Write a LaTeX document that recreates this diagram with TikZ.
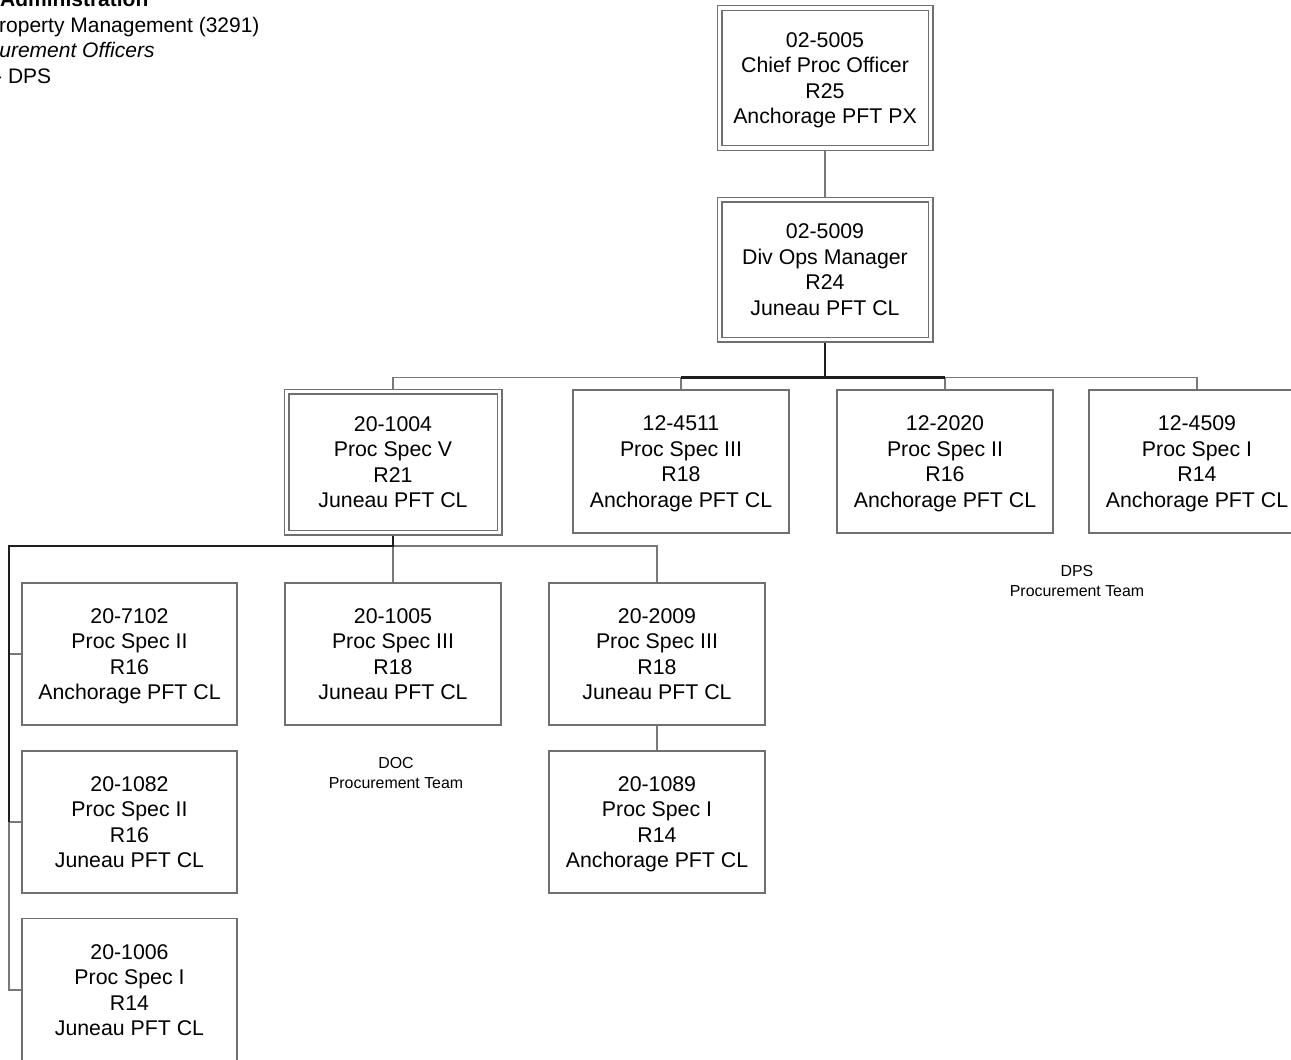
\documentclass[tikz,border=0pt]{standalone}
\usepackage{fontspec}
\setmainfont{Liberation Sans}
\usetikzlibrary{backgrounds}
\definecolor{boxgray}{HTML}{707070}
\definecolor{linegray}{HTML}{787878}
\definecolor{thickblack}{HTML}{1E1E1E}
\tikzset{
  boxtext/.style={font=\fontsize{21.3}{25.5}\selectfont, align=center, inner sep=0pt, text=black, text depth=0pt},
  posbox/.style={boxtext, draw=boxgray, line width=1.3pt, fill=white, minimum width=216pt, minimum height=143pt},
  dposbox/.style={boxtext, draw=boxgray, line width=1.2pt, double=white, double distance=3.6pt, fill=white, minimum width=211pt, minimum height=140pt},
  thinlink/.style={draw=linegray, line width=1.3pt},
  thicklink/.style={draw=thickblack, line width=2.3pt},
  teamlabel/.style={font=\fontsize{15.9}{20}\selectfont, align=center, inner sep=0pt},
  headtext/.style={font=\fontsize{21}{25.5}\selectfont, anchor=base west, inner sep=0pt}
}
\begin{document}
\begin{tikzpicture}[x=1pt, y=-1pt]
\useasboundingbox (0,0) rectangle (1291,1060);

% header text (partly cut off at the page edge)
\node[headtext, font=\fontsize{21}{25.5}\selectfont\bfseries] (h1) at (0,6) {Administration};
\node[headtext] (h2) at (-15,32) {Property Management (3291)};
\node[headtext, font=\fontsize{21}{25.5}\selectfont\itshape] (h3) at (-44,57) {Procurement Officers};
\node[headtext] (h4) at (-5,83) {- DPS};

% boxes
\node[dposbox] (A) at (825,78) {02-5005\\Chief Proc Officer\\R25\\Anchorage PFT PX};
\node[dposbox] (B) at (825,269.5) {02-5009\\Div Ops Manager\\R24\\Juneau PFT CL};

\node[dposbox, minimum width=213pt, minimum height=141pt] (C1) at (393,462) {20-1004\\Proc Spec V\\R21\\Juneau PFT CL};
\node[posbox] (C2) at (681,461.5) {12-4511\\Proc Spec III\\R18\\Anchorage PFT CL};
\node[posbox] (C3) at (945,461.5) {12-2020\\Proc Spec II\\R16\\Anchorage PFT CL};
\node[posbox] (C4) at (1197,461.5) {12-4509\\Proc Spec I\\R14\\Anchorage PFT CL};

\node[posbox, minimum width=215pt, minimum height=142pt] (D1) at (129.5,654) {20-7102\\Proc Spec II\\R16\\Anchorage PFT CL};
\node[posbox, minimum height=142pt] (D2) at (393,654) {20-1005\\Proc Spec III\\R18\\Juneau PFT CL};
\node[posbox, minimum height=142pt] (D3) at (657,654) {20-2009\\Proc Spec III\\R18\\Juneau PFT CL};
\node[posbox, minimum height=142pt] (E3) at (657,822) {20-1089\\Proc Spec I\\R14\\Anchorage PFT CL};
\node[posbox, minimum width=215pt, minimum height=142pt] (E1) at (129.5,822) {20-1082\\Proc Spec II\\R16\\Juneau PFT CL};
\node[posbox, minimum width=215pt, minimum height=143pt] (F1) at (129.5,990) {20-1006\\Proc Spec I\\R14\\Juneau PFT CL};

% team labels
\node[teamlabel] (dps) at (1077,581) {DPS\\Procurement Team};
\node[teamlabel] (doc) at (396,773) {DOC\\Procurement Team};

% connectors
\coordinate (busB) at (825,377.5);
\coordinate (busC) at (393,546);
\coordinate (lft) at (9,546);
\begin{scope}[on background layer]
  \draw[thinlink] (A.south) -- (B.north);
  \draw[thinlink] (C1.north) |- (busB) -| (C4.north);
  \draw[thinlink] (C2.north) -- (C2.north |- busB);
  \draw[thinlink] (C3.north) -- (C3.north |- busB);
  \draw[thicklink] (B.south) -- (busB);
  \draw[thicklink] (C2.north |- busB) -- (C3.north |- busB);

  \draw[thinlink] (busC) -- (D2.north);
  \draw[thinlink] (busC) -| (D3.north);
  \draw[thinlink] (D3.south) -- (E3.north);
  \draw[thinlink] (lft) |- (D1.west);
  \draw[thinlink] (lft) |- (E1.west);
  \draw[thinlink] (lft) |- (F1.west);
  \draw[thicklink] (C1.south) -- (busC) -- (lft) -- (lft |- E1.west);
\end{scope}
\end{tikzpicture}
\end{document}
